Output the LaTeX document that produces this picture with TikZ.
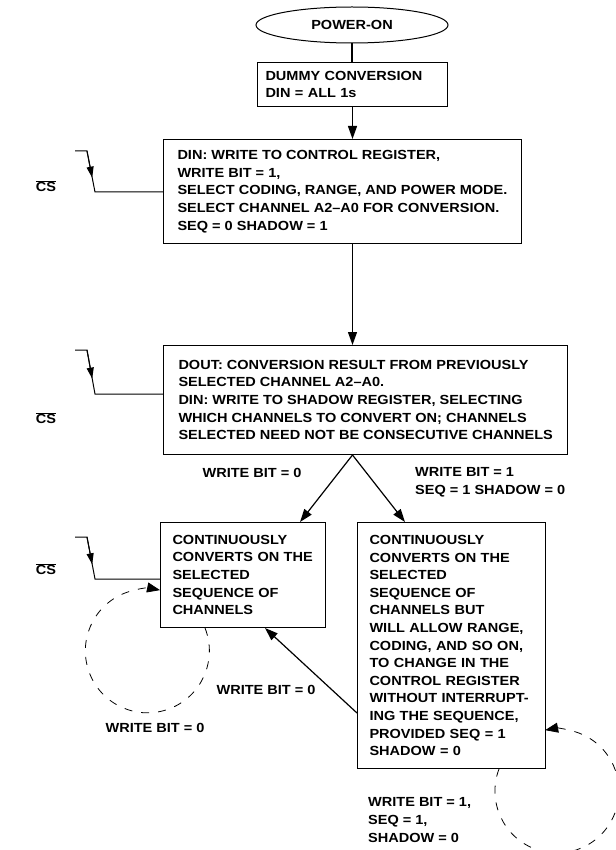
\documentclass[tikz,border=0pt]{standalone}
\usepackage{fontspec}
\setmainfont{Liberation Sans}[FakeStretch=1.1]
\usetikzlibrary{shapes.geometric,arrows.meta,calc}
\begin{document}
\begin{tikzpicture}[x=1pt,y=1pt,
  every node/.style={font=\fontsize{13.2}{17.6}\selectfont\bfseries},
  box/.style={draw, line width=1pt, anchor=north west, align=left, inner xsep=14pt, inner ysep=0pt},
  arr/.style={line width=1.2pt, -{Triangle[length=13pt,width=9pt]}},
  loopline/.style={line width=0.8pt, dash pattern=on 8pt off 9pt, -{Triangle[length=13pt,width=10pt]}},
  wave/.style={line width=1pt},
  wavearr/.style={line width=1pt, -{Triangle[length=11pt,width=7pt]}},
  lbl/.style={inner sep=0pt}
]
\useasboundingbox (0,0) rectangle (615,-850);

% nodes
\node[draw, ellipse, line width=1pt, minimum width=192pt, minimum height=36pt, inner sep=0pt] (pwr) at (352,-25) {POWER-ON};
\node[box, inner xsep=8pt, text width=174pt, minimum height=44pt] (dummy) at (257,-62) {DUMMY CONVERSION\\DIN = ALL 1s};
\node[box, minimum height=104pt] (ctrl) at (163,-139) {DIN: WRITE TO CONTROL REGISTER,\\WRITE BIT = 1,\\SELECT CODING, RANGE, AND POWER MODE.\\SELECT CHANNEL A2–A0 FOR CONVERSION.\\SEQ = 0 SHADOW = 1};
\node[box, inner xsep=15pt, minimum height=109pt] (shad) at (163,-345) {DOUT: CONVERSION RESULT FROM PREVIOUSLY\\SELECTED CHANNEL A2–A0.\\DIN: WRITE TO SHADOW REGISTER, SELECTING\\WHICH CHANNELS TO CONVERT ON; CHANNELS\\SELECTED NEED NOT BE CONSECUTIVE CHANNELS};
\node[box, inner xsep=12pt, text width=141pt, minimum height=105pt] (cont) at (160,-522) {CONTINUOUSLY\\CONVERTS ON THE\\SELECTED\\SEQUENCE OF\\CHANNELS};
\node[box, inner xsep=12pt, text width=164pt, minimum height=246pt] (contr) at (357,-522) {CONTINUOUSLY\\CONVERTS ON THE\\SELECTED\\SEQUENCE OF\\CHANNELS BUT\\WILL ALLOW RANGE,\\CODING, AND SO ON,\\TO CHANGE IN THE\\CONTROL REGISTER\\WITHOUT INTERRUPT-\\ING THE SEQUENCE,\\PROVIDED SEQ = 1\\SHADOW = 0};

% labels
\node[lbl] (l0) at (252,-473) {WRITE BIT = 0};
\node[lbl, anchor=west, align=left] (l1) at (415,-482) {WRITE BIT = 1\\SEQ = 1 SHADOW = 0};
\node[lbl] (l2) at (266,-690) {WRITE BIT = 0};
\node[lbl] (l3) at (155,-728) {WRITE BIT = 0};
\node[lbl, anchor=west, align=left] (l4) at (368,-820) {WRITE BIT = 1,\\SEQ = 1,\\SHADOW = 0};

\node[lbl] (cs1) at (46,-186) {$\overline{\mbox{CS}}$};
\node[lbl] (cs2) at (46,-418) {$\overline{\mbox{CS}}$};
\node[lbl] (cs3) at (46,-569) {$\overline{\mbox{CS}}$};

% main flow
\draw[line width=1.2pt] (pwr.south) -- (pwr.south |- dummy.north);
\draw[arr] (dummy.south) -- (dummy.south |- ctrl.north);
\draw[arr] (dummy.south |- ctrl.south) -- (dummy.south |- shad.north);
\coordinate (apex) at (dummy.south |- shad.south);
\draw[arr] (apex) -- ($(cont.north west)+(140,0)$);
\draw[arr] (apex) -- ($(contr.north west)+(48,0)$);
\draw[arr] ($(contr.north west)+(0,-191)$) -- ($(cont.south west)+(105,0)$);

% loops
\draw[loopline] ($(cont.south west)+(45,0)$) arc[start angle=21.6, end angle=-281.8, radius=62];
\draw[loopline] ($(contr.south west)+(142,0)$) arc[start angle=159.2, end angle=461, radius=62];

% CS waveforms
\coordinate (w1a) at (75,-151); \coordinate (w1b) at (87,-151); \coordinate (w1c) at (95,-192);
\draw[wave] (w1a) -- (w1b) -- (w1c) -- (ctrl.west |- w1c);
\draw[wavearr] (w1b) -- ($(w1b)!0.65!(w1c)$);
\coordinate (w2a) at (75,-350); \coordinate (w2b) at (87,-350); \coordinate (w2c) at (95,-394);
\draw[wave] (w2a) -- (w2b) -- (w2c) -- (shad.west |- w2c);
\draw[wavearr] (w2b) -- ($(w2b)!0.65!(w2c)$);
\coordinate (w3a) at (75,-537); \coordinate (w3b) at (87,-537); \coordinate (w3c) at (95,-579);
\draw[wave] (w3a) -- (w3b) -- (w3c) -- (cont.west |- w3c);
\draw[wavearr] (w3b) -- ($(w3b)!0.65!(w3c)$);
\end{tikzpicture}
\end{document}
